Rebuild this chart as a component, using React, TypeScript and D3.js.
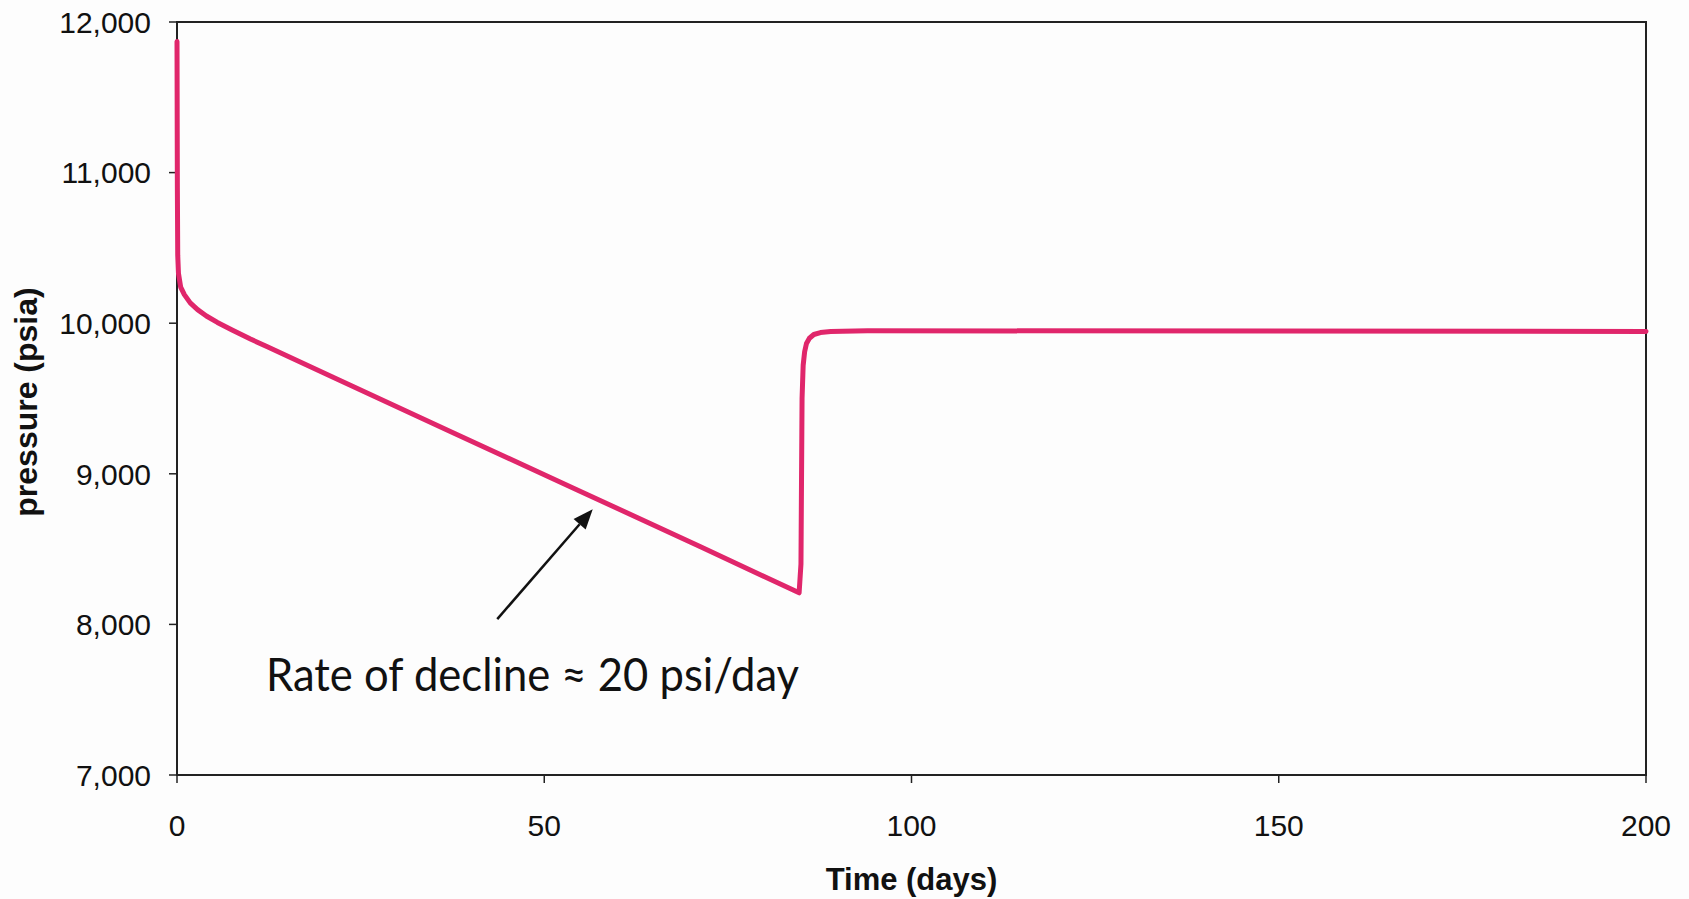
import React from "react";
import * as d3 from "d3";

const timeDays = [0, 0.05, 0.1, 0.2, 0.5, 1, 1.8, 2.8, 4, 5.5, 7.5, 10, 12.3, 21.1, 37.8, 54.5, 71.2, 84.7, 84.95, 85.1, 85.25, 85.45, 85.7, 86.1, 86.7, 87.6, 89, 94, 200];
const pressurePsia = [11870, 10900, 10450, 10330, 10240, 10190, 10135, 10090, 10048, 10005, 9955, 9895, 9843, 9645, 9268, 8893, 8517, 8210, 8400, 9500, 9720, 9810, 9865, 9900, 9925, 9938, 9945, 9950, 9945];

const xTicks = [0, 50, 100, 150, 200];
const yTicks = [7000, 8000, 9000, 10000, 11000, 12000];

const xTitle = "Time (days)";
const yTitle = "pressure (psia)";
const annotation = "Rate of decline \u2248 20 psi/day";
// arrow endpoints in data space (tail near the text, head just below the decline line)
const arrowTail = { t: 43.6, p: 8035 };
const arrowHead = { t: 56.6, p: 8765 };

export default function App() {
  const W = 1689, H = 899;
  const left = 177, right = 1646, top = 22, bottom = 775;

  const x = d3.scaleLinear().domain([0, 200]).range([left, right]);
  const y = d3.scaleLinear().domain([7000, 12000]).range([bottom, top]);

  const pts = timeDays.map((t, i) => [t, pressurePsia[i]] as [number, number]);
  const line = d3.line<[number, number]>()
    .x(d => x(d[0]))
    .y(d => y(d[1]))
    .curve(d3.curveLinear);

  const fmt = d3.format(",");
  const font = "'Liberation Sans', Arial, sans-serif";

  const hx = x(arrowHead.t), hy = y(arrowHead.p);
  const tx = x(arrowTail.t), ty = y(arrowTail.p);
  const ang = Math.atan2(hy - ty, hx - tx);
  const aLen = 20, aW = 8;
  const bx = hx - aLen * Math.cos(ang), by = hy - aLen * Math.sin(ang);
  const p1 = [bx + aW * Math.sin(ang), by - aW * Math.cos(ang)];
  const p2 = [bx - aW * Math.sin(ang), by + aW * Math.cos(ang)];

  return (
    <svg width={W} height={H} style={{ position: "absolute", left: 0, top: 0, background: "#fff" }}>
      <rect x={0} y={0} width={W} height={H} fill="#fdfdfd" />
      {/* frame */}
      <rect x={left} y={top} width={right - left} height={bottom - top} fill="none" stroke="#222" strokeWidth={2} />
      {/* y ticks */}
      {yTicks.map(v => (
        <g key={"y" + v}>
          <line x1={left - 8} x2={left} y1={y(v)} y2={y(v)} stroke="#222" strokeWidth={1.5} />
          <text x={left - 26} y={y(v)} dy="0.36em" textAnchor="end" fontFamily={font} fontSize={30} fill="#111">{fmt(v)}</text>
        </g>
      ))}
      {/* x ticks */}
      {xTicks.map(v => (
        <g key={"x" + v}>
          <line x1={x(v)} x2={x(v)} y1={bottom} y2={bottom + 8} stroke="#222" strokeWidth={1.5} />
          <text x={x(v)} y={836} textAnchor="middle" fontFamily={font} fontSize={30} fill="#111">{v}</text>
        </g>
      ))}
      {/* titles */}
      <text x={(left + right) / 2} y={890} textAnchor="middle" fontFamily={font} fontWeight="bold" fontSize={31} fill="#111">{xTitle}</text>
      <text transform={`translate(37,402) rotate(-90)`} textAnchor="middle" fontFamily={font} fontWeight="bold" fontSize={32} fill="#111">{yTitle}</text>
      {/* data line */}
      <path d={line(pts) || ""} fill="none" stroke="#e0266b" strokeWidth={5} strokeLinejoin="round" strokeLinecap="round" />
      {/* annotation */}
      <line x1={tx} y1={ty} x2={bx} y2={by} stroke="#111" strokeWidth={2.5} />
      <polygon points={`${hx},${hy} ${p1[0]},${p1[1]} ${p2[0]},${p2[1]}`} fill="#111" />
      <text x={266} y={691} fontFamily="Lato, 'Open Sans', sans-serif" fontSize={46} textLength={533} lengthAdjust="spacingAndGlyphs" fill="#111">{annotation}</text>
    </svg>
  );
}
